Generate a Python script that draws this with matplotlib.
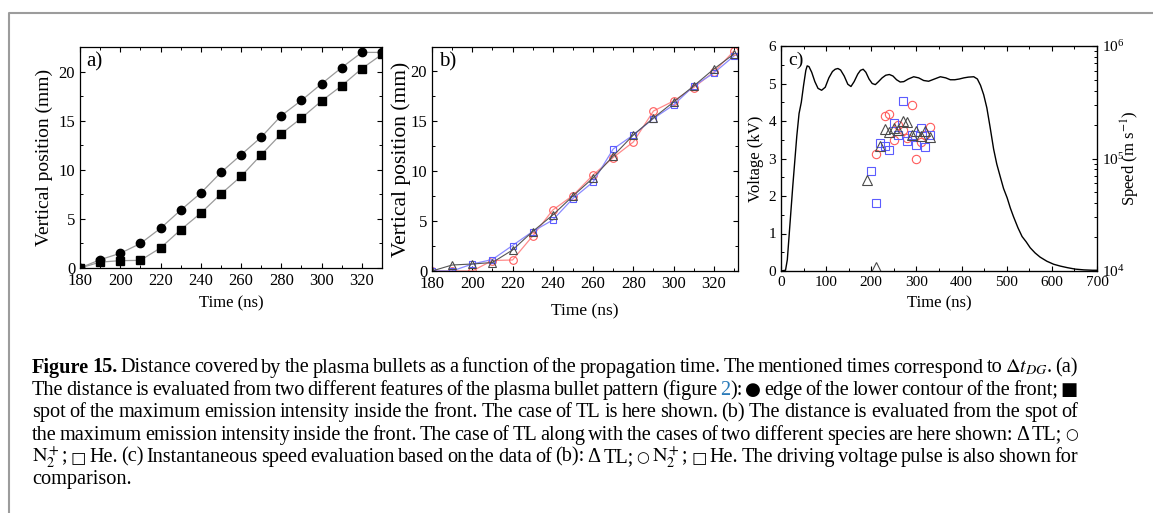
import matplotlib
matplotlib.use("Agg")
import matplotlib.pyplot as plt
from matplotlib.lines import Line2D
from matplotlib.ticker import MultipleLocator, LogLocator, NullFormatter

plt.rcParams["font.family"] = ["Liberation Serif", "DejaVu Serif"]
plt.rcParams["mathtext.fontset"] = "stix"
plt.rcParams["xtick.direction"] = "in"
plt.rcParams["ytick.direction"] = "in"

W, H = 1153, 513

# ---- panel a: two features of the TL front
time_ns = [180, 190, 200, 210, 220, 230, 240, 250, 260, 270, 280, 290, 300, 310, 320, 330]
edge_mm = [0, 0.85, 1.5, 2.5, 4.05, 5.9, 7.65, 9.75, 11.55, 13.35, 15.55, 17.1, 18.8, 20.45, 22.0, 22.0]
spot_mm = [0, 0.6, 0.75, 0.78, 2.05, 3.9, 5.6, 7.55, 9.35, 11.55, 13.7, 15.3, 17.05, 18.6, 20.35, 21.8]

# ---- panel b: TL, N2+ and He
tl_mm = [0, 0.6, 0.7, 0.85, 2.1, 3.95, 5.6, 7.5, 9.3, 11.5, 13.6, 15.3, 16.9, 18.5, 20.2, 21.7]
n2_mm = [0, 0, 0, 1.05, 1.1, 3.5, 6.1, 7.55, 9.6, 11.35, 12.9, 16.0, 17.0, 18.35, 19.9, 22.0]
he_mm = [0, 0, 0.7, 1.15, 2.55, 3.95, 5.1, 7.25, 8.9, 12.2, 13.6, 15.25, 16.6, 18.5, 19.8, 21.5]

# ---- panel c: voltage pulse and instantaneous speeds
pulse_t = [0, 10, 14, 18, 22, 26, 30, 35, 40, 45, 50, 55, 58, 62, 68, 75, 82, 90, 98,
           106, 114, 120, 126, 132, 140, 148, 155, 162, 170, 176, 182, 188, 195, 202,
           209, 216, 224, 232, 240, 248, 256, 264, 272, 282, 294, 305, 316, 327, 340,
           353, 365, 375, 385, 395, 405, 415, 427, 435, 442, 449, 456, 463, 471, 478,
           486, 493, 501, 508, 515, 525, 534, 543, 552, 563, 574, 589, 604, 619, 634,
           652, 671, 690, 700]
pulse_kv = [0, 0.02, 0.3, 0.95, 1.6, 2.25, 2.85, 3.6, 4.2, 4.5, 4.95, 5.35, 5.47, 5.45,
            5.3, 5.05, 4.87, 4.82, 4.9, 5.15, 5.32, 5.38, 5.4, 5.36, 5.2, 4.98, 4.92,
            5.05, 5.25, 5.35, 5.38, 5.3, 5.12, 5.0, 4.97, 5.05, 5.15, 5.22, 5.24, 5.2,
            5.1, 5.04, 5.05, 5.12, 5.18, 5.15, 5.08, 5.06, 5.12, 5.18, 5.15, 5.1, 5.1,
            5.12, 5.15, 5.17, 5.18, 5.12, 4.95, 4.7, 4.35, 3.85, 3.25, 2.85, 2.5, 2.2,
            1.95, 1.68, 1.45, 1.15, 0.92, 0.78, 0.62, 0.48, 0.37, 0.26, 0.18, 0.13,
            0.09, 0.05, 0.03, 0.02, 0.02]

tl_speed_t = [190, 210, 220, 230, 240, 250, 260, 270, 280, 290, 300, 310, 320, 330]
tl_speed = [6.5e4, 1.08e4, 1.28e5, 1.82e5, 1.72e5, 1.88e5, 1.78e5, 2.17e5, 2.1e5,
            1.63e5, 1.74e5, 1.6e5, 1.74e5, 1.56e5]
n2_speed_t = [210, 230, 240, 250, 260, 270, 280, 290, 300, 310, 320, 330]
n2_speed = [1.09e5, 2.38e5, 2.47e5, 1.46e5, 2.0e5, 1.79e5, 1.51e5, 3.0e5, 9.8e4,
            1.41e5, 1.62e5, 1.92e5]
he_speed_t = [200, 210, 220, 230, 240, 250, 260, 270, 280, 290, 300, 310, 320, 330]
he_speed = [7.8e4, 4.0e4, 1.36e5, 1.30e5, 1.19e5, 2.06e5, 1.62e5, 3.24e5, 1.43e5,
            1.62e5, 1.32e5, 1.86e5, 1.26e5, 1.63e5]

red = "#ff5c5c"
blue = "#5c5cff"
grey = "#4a4a4a"

fig = plt.figure(figsize=(W / 100, H / 100), dpi=100)


def box(l, t, r, b):
    return [l / W, (H - b) / H, (r - l) / W, (b - t) / H]


def style(ax, fs):
    ax.tick_params(which="both", top=True, right=True, labelsize=fs)
    ax.tick_params(which="major", length=3.5, width=0.8)
    ax.tick_params(which="minor", length=2, width=0.7)
    for s in ax.spines.values():
        s.set_linewidth(0.9)


# panel a
axa = fig.add_axes(box(80, 47, 382, 268))
axa.plot(time_ns, edge_mm, color="#9a9a9a", lw=0.9, marker="o", ms=6,
         mfc="k", mec="k", zorder=3)
axa.plot(time_ns, spot_mm, color="#9a9a9a", lw=0.9, marker="s", ms=5.5,
         mfc="k", mec="k", zorder=3)
axa.set_xlim(180, 330)
axa.set_ylim(0, 22.55)
axa.xaxis.set_major_locator(MultipleLocator(20))
axa.xaxis.set_minor_locator(MultipleLocator(10))
axa.yaxis.set_major_locator(MultipleLocator(5))
axa.yaxis.set_minor_locator(MultipleLocator(2.5))
style(axa, 12)
axa.set_xlabel("Time (ns)", fontsize=12)
axa.set_ylabel("Vertical position (mm)", fontsize=14)
axa.xaxis.set_label_coords(0.5, -0.125)
axa.yaxis.set_label_coords(-0.09, 0.5)
axa.text(0.022, 0.975, "a)", transform=axa.transAxes, fontsize=15, va="top")

# panel b
axb = fig.add_axes(box(432, 47, 738, 271))
axb.plot(time_ns, n2_mm, color="#ff8a8a", lw=0.9, marker="o", ms=5.5,
         mfc="none", mec=red, mew=0.8)
axb.plot(time_ns, he_mm, color="#8a8aff", lw=0.9, marker="s", ms=5,
         mfc="none", mec=blue, mew=0.8)
axb.plot(time_ns, tl_mm, color="#555555", lw=0.8, marker="^", ms=6,
         mfc="none", mec=grey, mew=0.8)
axb.set_xlim(180, 332)
axb.set_ylim(0, 22.4)
axb.xaxis.set_major_locator(MultipleLocator(20))
axb.xaxis.set_minor_locator(MultipleLocator(10))
axb.yaxis.set_major_locator(MultipleLocator(5))
axb.yaxis.set_minor_locator(MultipleLocator(2.5))
style(axb, 12)
axb.set_xlabel("Time (ns)", fontsize=12.5)
axb.set_ylabel("Vertical position (mm)", fontsize=15.5)
axb.xaxis.set_label_coords(0.5, -0.145)
axb.yaxis.set_label_coords(-0.07, 0.5)
axb.text(0.022, 0.975, "b)", transform=axb.transAxes, fontsize=15, va="top")

# panel c
axc = fig.add_axes(box(781, 46, 1097, 271))
axc.plot(pulse_t, pulse_kv, color="k", lw=1.0)
axc.set_xlim(0, 700)
axc.set_ylim(0, 6)
axc.xaxis.set_major_locator(MultipleLocator(100))
axc.xaxis.set_minor_locator(MultipleLocator(50))
axc.yaxis.set_major_locator(MultipleLocator(1))
axc.yaxis.set_minor_locator(MultipleLocator(0.5))
style(axc, 11)
axc.tick_params(which="both", right=False)
axc.set_xlabel("Time (ns)", fontsize=12)
axc.set_ylabel("Voltage (kV)", fontsize=12)
axc.xaxis.set_label_coords(0.5, -0.11)
axc.yaxis.set_label_coords(-0.055, 0.5)
axc.text(0.022, 0.975, "c)", transform=axc.transAxes, fontsize=14, va="top")

ax2 = axc.twinx()
ax2.set_yscale("log")
ax2.set_ylim(1e4, 1e6)
ax2.plot(n2_speed_t, n2_speed, ls="none", marker="o", ms=6, mfc="none", mec=red, mew=0.8)
ax2.plot(he_speed_t, he_speed, ls="none", marker="s", ms=5.5, mfc="none", mec=blue, mew=0.8)
ax2.plot(tl_speed_t, tl_speed, ls="none", marker="^", ms=6.5, mfc="none", mec=grey, mew=0.8)
ax2.yaxis.set_major_locator(LogLocator(base=10))
ax2.yaxis.set_minor_locator(LogLocator(base=10, subs=range(2, 10)))
ax2.yaxis.set_minor_formatter(NullFormatter())
ax2.tick_params(which="both", direction="in", labelsize=11)
ax2.tick_params(which="major", length=3.5, width=0.8)
ax2.tick_params(which="minor", length=2, width=0.7)
ax2.set_ylabel("Speed (m s$^{-1}$)", fontsize=12)
ax2.yaxis.set_label_coords(1.07, 0.5)

# frame around the figure block
fig.add_artist(Line2D([9 / W, 9 / W, 1], [0, (H - 13) / H, (H - 13) / H],
                      color="#9c9c9c", lw=1.5))

# caption, justified line by line
caption = [
    "**Figure** **15.** Distance covered by the plasma bullets as a function of the propagation time. The mentioned times correspond to $\\Delta{}t_{DG}$. (a)",
    "The distance is evaluated from two different features of the plasma bullet pattern (figure [2]): \u25cf edge of the lower contour of the front; \u25a0",
    "spot of the maximum emission intensity inside the front. The case of TL is here shown. (b) The distance is evaluated from the spot of",
    "the maximum emission intensity inside the front. The case of TL along with the cases of two different species are here shown: \u0394 TL; \u25cb",
    "$\\mathrm{N}_2^+$; \u25a1 He. (c) Instantaneous speed evaluation based on the data of (b): \u0394 TL; \u25cb $\\mathrm{N}_2^+$; \u25a1 He. The driving voltage pulse is also shown for",
    "comparison.",
]
base_px = [372.5, 395, 417.3, 439.6, 461.9, 484.2]
cap_fs = 14.6
left_px, right_px = 32, 1078
# glyph scale for the marker symbols quoted in the caption
symbols = {"\u25cf": 0.9, "\u25a0": 0.9, "\u25cb": 0.72, "\u25a1": 0.8}
renderer = fig.canvas.get_renderer()


def parts(word):
    if word.startswith("**"):
        return [(word.strip("*"), "k", "bold")]
    if "[" in word:
        a, rest = word.split("[")
        b, c = rest.split("]")
        return [(a, "k", "normal"), (b, "#2b7bb9", "normal"), (c, "k", "normal")]
    return [(word, "k", "normal")]


sp1 = fig.text(0, 0, "x x", fontsize=cap_fs)
sp2 = fig.text(0, 0, "xx", fontsize=cap_fs)
space_w = sp1.get_window_extent(renderer).width - sp2.get_window_extent(renderer).width
sp1.remove()
sp2.remove()

for i, line in enumerate(caption):
    y = (H - base_px[i]) / H
    words = []
    for w in line.split(" "):
        pieces = []
        for txt, col, wt in parts(w):
            if not txt:
                continue
            if txt in symbols:
                t = fig.text(0, y, txt, fontsize=cap_fs * symbols[txt], color=col,
                             family="DejaVu Sans", va="baseline")
            else:
                t = fig.text(0, y, txt, fontsize=cap_fs, color=col, fontweight=wt,
                             va="baseline")
            pieces.append((t, t.get_window_extent(renderer).width))
        words.append(pieces)
    total = sum(wd for p in words for _, wd in p)
    if i < len(caption) - 1:
        gap = max((right_px - left_px - total) / (len(words) - 1), 2)
    else:
        gap = space_w
    x = left_px
    for p in words:
        for t, wd in p:
            t.set_x(x / W)
            x += wd
        x += gap

fig.savefig("out.png", dpi=100)
